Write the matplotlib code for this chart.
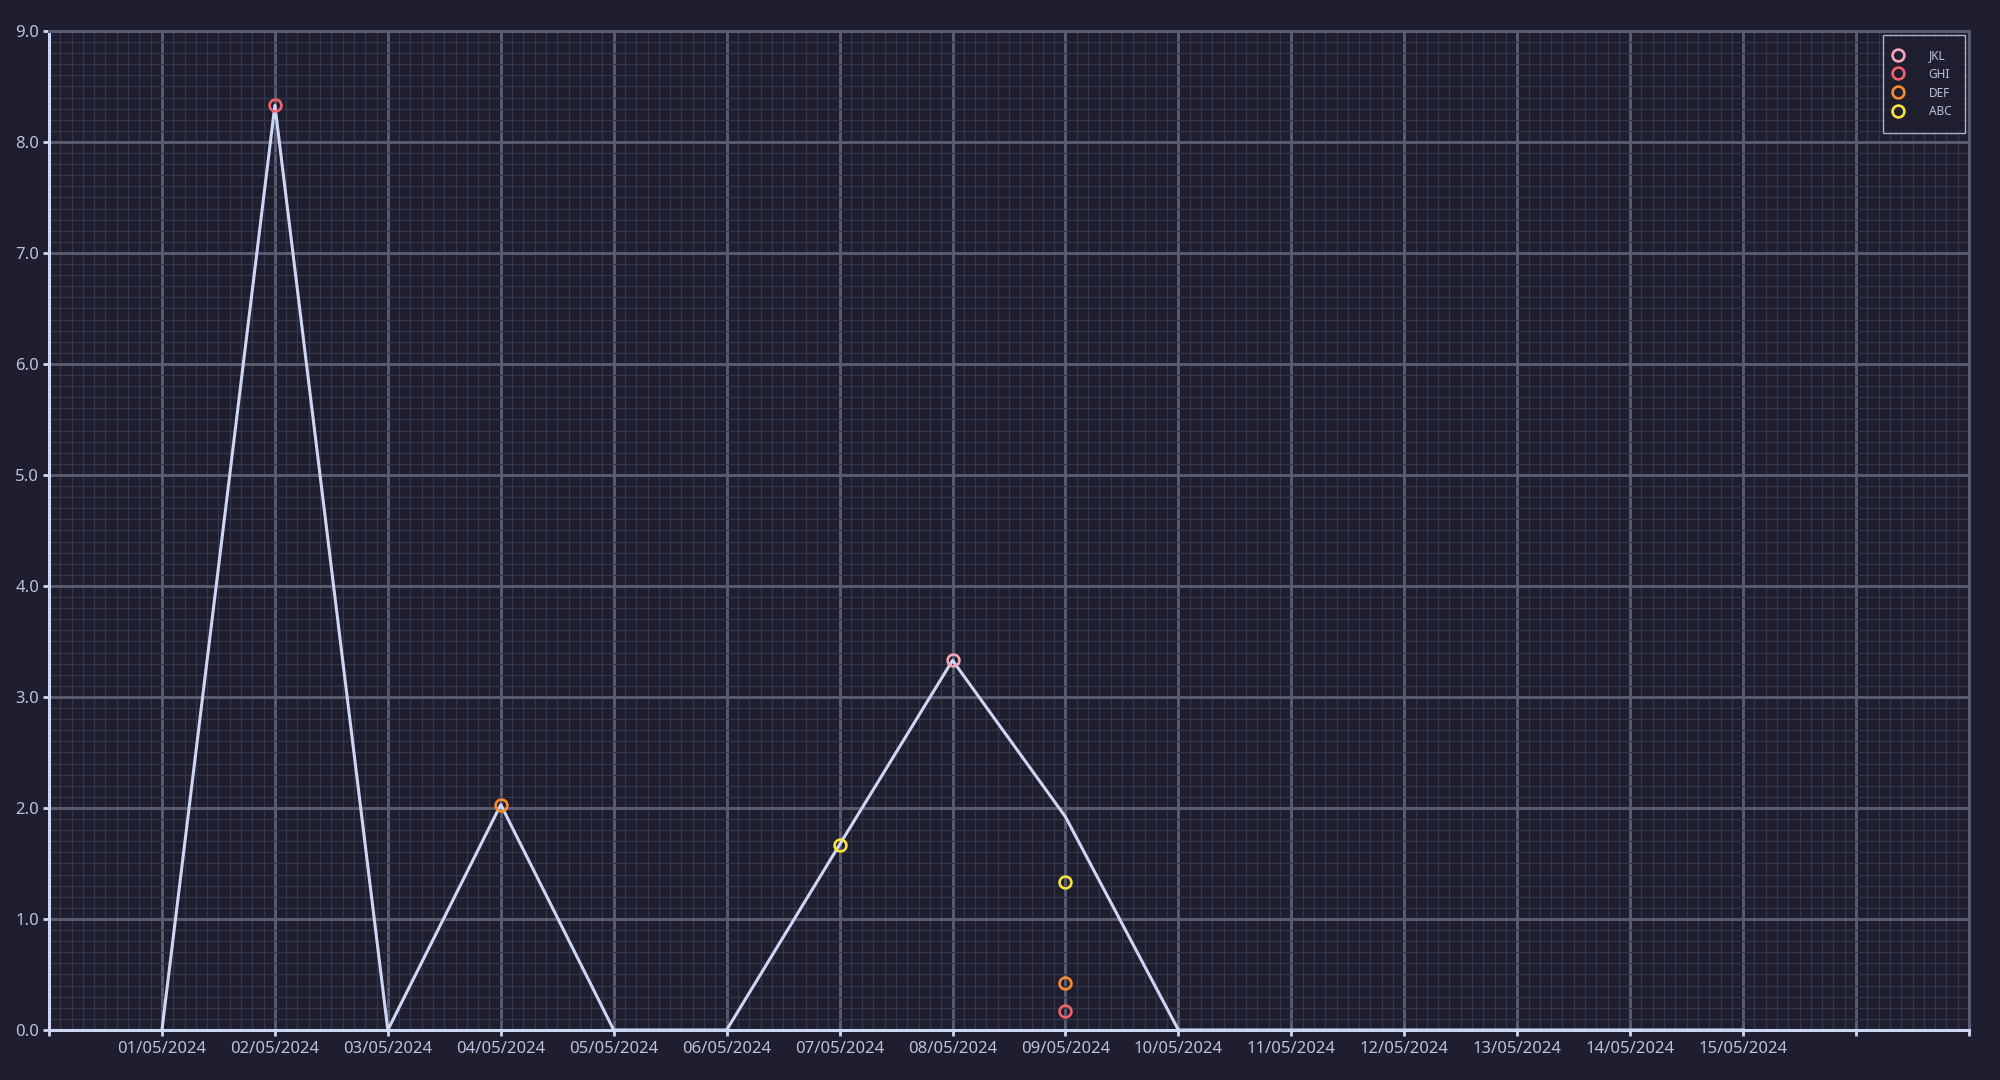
import matplotlib
matplotlib.use('Agg')
import matplotlib.pyplot as plt
import matplotlib.dates as mdates
from matplotlib.ticker import AutoMinorLocator, FixedLocator, FixedFormatter
import pandas as pd

plt.rcParams['font.family'] = ['Noto Sans', 'DejaVu Sans']

# total per day
days = pd.date_range('2024-05-01', '2024-05-15')
total = [0, 8.33, 0, 2.03, 0, 0, 1.67, 3.33, 1.92, 0, 0, 0, 0, 0, 0]

# individual series
abc_dates = ['2024-05-07', '2024-05-09']
abc_vals = [1.67, 1.33]
def_dates = ['2024-05-04', '2024-05-09']
def_vals = [2.03, 0.42]
ghi_dates = ['2024-05-02', '2024-05-09']
ghi_vals = [8.33, 0.17]
jkl_dates = ['2024-05-08']
jkl_vals = [3.33]

series = [
    ('ABC', abc_dates, abc_vals, '#f7e23e'),
    ('DEF', def_dates, def_vals, '#f98b2c'),
    ('GHI', ghi_dates, ghi_vals, '#f2626c'),
    ('JKL', jkl_dates, jkl_vals, '#f5a7b8'),
]

bg = '#1e1e2e'
fg = '#cdd6f4'
txt = '#bac2de'

fig = plt.figure(figsize=(20, 10.8), dpi=100, facecolor=bg)
ax = fig.add_axes([0.0245, 0.0463, 0.96, 0.925])
ax.set_facecolor(bg)

ax.plot(days, total, color=fg, linewidth=2.2, zorder=3)

handles = []
for name, d, v, c in series:
    h, = ax.plot(pd.to_datetime(d), v, linestyle='none', marker='o', markersize=8.5,
                 markerfacecolor='none', markeredgecolor=c, markeredgewidth=1.9,
                 label=name, zorder=4)
    handles.append(h)

# axis range and ticks: one tick per day, labels only for 01..15
all_days = pd.date_range('2024-04-30', '2024-05-17')
ax.set_xlim(mdates.date2num(all_days[0]), mdates.date2num(all_days[-1]))
ax.set_ylim(0, 9)
labels = [d.strftime('%d/%m/%Y') if d in days else '' for d in all_days]
ax.xaxis.set_major_locator(FixedLocator(mdates.date2num(all_days)))
ax.xaxis.set_major_formatter(FixedFormatter(labels))
ax.xaxis.set_minor_locator(AutoMinorLocator(10))
ax.set_yticks(range(10))
ax.set_yticklabels([f'{i:.1f}' for i in range(10)])
ax.yaxis.set_minor_locator(AutoMinorLocator(10))

ax.grid(which='major', color='#595b70', linewidth=2.1, zorder=1)
ax.grid(which='minor', color='#35364a', linewidth=0.9, zorder=0)
ax.set_axisbelow(True)

ax.tick_params(which='major', colors=fg, labelcolor=txt, labelsize=12,
               length=4, width=2)
ax.tick_params(axis='x', pad=4)
ax.tick_params(axis='y', pad=3)
ax.tick_params(which='minor', length=0)

for s in ['left', 'bottom']:
    ax.spines[s].set_color(fg)
    ax.spines[s].set_linewidth(2.2)
for s in ['top', 'right']:
    ax.spines[s].set_color('#595b70')
    ax.spines[s].set_linewidth(2.2)

leg = ax.legend(handles=handles[::-1], loc='upper right', fontsize=8.5,
                frameon=True, fancybox=False, facecolor=bg, edgecolor=fg,
                labelcolor=txt, borderpad=1.2, labelspacing=0.5,
                handletextpad=2.5, borderaxespad=0.3, handlelength=0.2)
leg.get_frame().set_linewidth(1.0)

fig.savefig('out.png', dpi=100, facecolor=bg)
